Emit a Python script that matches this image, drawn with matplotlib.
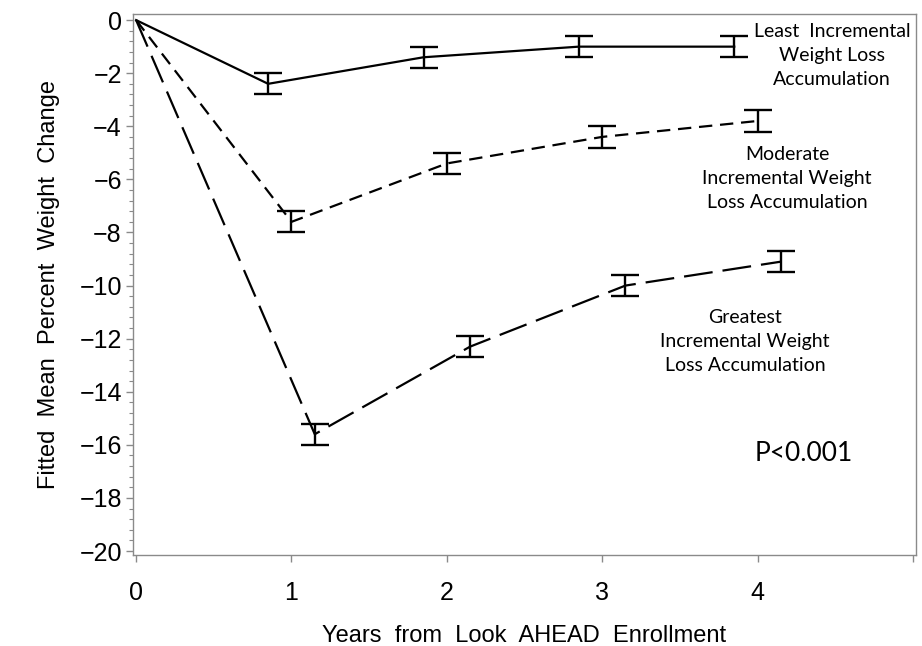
import numpy as np
import matplotlib.pyplot as plt
from matplotlib.ticker import MultipleLocator

years = [1, 2, 3, 4]
offsets = [-0.15, 0.0, 0.15]
groups = ["least", "moderate", "greatest"]
least_mean = [-2.4, -1.4, -1.0, -1.0]
moderate_mean = [-7.6, -5.4, -4.4, -3.8]
greatest_mean = [-15.6, -12.3, -10.0, -9.1]
half_ci = [0.4, 0.4, 0.4, 0.4]
labels = ["Least  Incremental\nWeight Loss\nAccumulation",
          "Moderate\nIncremental Weight\nLoss Accumulation",
          "Greatest\nIncremental Weight\nLoss Accumulation"]
label_pos = [(4.48, -1.32), (4.19, -5.95), (3.92, -12.09)]
dashes = [None, (6, 3.5), (13, 4.5)]

means = [least_mean, moderate_mean, greatest_mean]

fig = plt.figure(figsize=(9.22, 6.46), dpi=100)
ax = fig.add_axes([133 / 922, 1 - 555 / 646, (916 - 133) / 922, (555 - 14) / 646])

for mean, off, dash in zip(means, offsets, dashes):
    x = [0] + [y + off for y in years]
    y = [0] + mean
    line, = ax.plot(x, y, color="black", lw=1.6)
    if dash is not None:
        line.set_dashes(dash)
    ax.errorbar(x[1:], mean, yerr=half_ci, fmt="none", ecolor="black",
                elinewidth=1.7, capsize=10, capthick=1.7)

for text, (tx, ty) in zip(labels, label_pos):
    ax.text(tx, ty, text, ha="center", va="center", fontsize=14,
            family="Lato", linespacing=1.5)
ax.text(4.30, -16.31, "P<0.001", ha="center", va="center", fontsize=19,
        family="Lato")

ax.set_xlim(-0.02, 5.02)
ax.set_ylim(-20.15, 0.23)
ax.set_xticks([0, 1, 2, 3, 4, 5])
ax.set_xticklabels(["0", "1", "2", "3", "4", ""])
ax.yaxis.set_major_locator(MultipleLocator(2))
ax.yaxis.set_minor_locator(MultipleLocator(0.4))

for s in ax.spines.values():
    s.set_color("#8a8a8a")
    s.set_linewidth(1.0)
ax.tick_params(axis="both", colors="#8a8a8a", labelcolor="black",
               labelsize=18, length=5, width=1.0)
ax.tick_params(axis="y", which="minor", colors="#8a8a8a", length=3, width=0.8)
ax.tick_params(axis="x", pad=14)
ax.tick_params(axis="y", pad=3)
for lab in ax.get_xticklabels() + ax.get_yticklabels():
    lab.set_family("Liberation Sans")

ax.set_xlabel("Years  from  Look  AHEAD  Enrollment", fontsize=17,
              family="Liberation Sans", labelpad=14)
ax.set_ylabel("Fitted  Mean  Percent  Weight  Change", fontsize=17,
              family="Liberation Sans", labelpad=14)

fig.savefig("out.png", dpi=100)
